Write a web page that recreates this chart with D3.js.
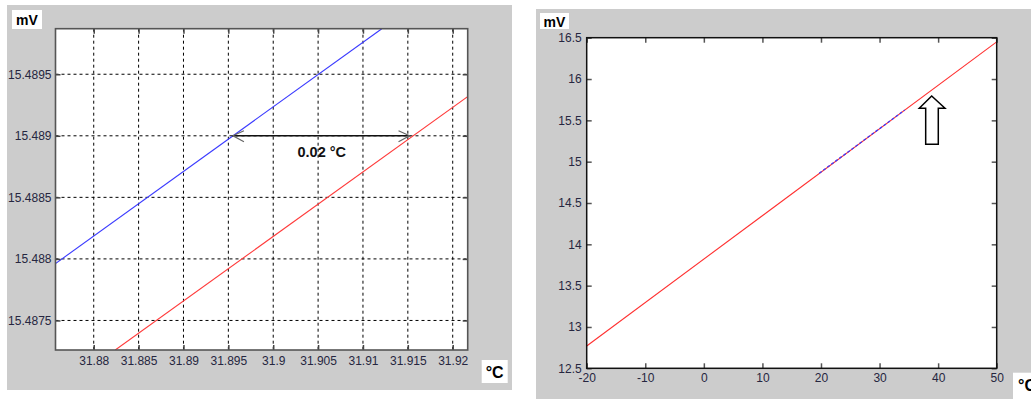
<!DOCTYPE html>
<html><head><meta charset="utf-8">
<script src="https://cdn.jsdelivr.net/npm/d3@7"></script>
<style>body{margin:0;background:#fff}svg{display:block}text{font-family:Arial,"Liberation Sans",sans-serif}</style>
</head><body><svg id="c" width="1031" height="399"></svg>
<script>
// ---- data ----
const leftXTicks = [31.88, 31.885, 31.89, 31.895, 31.9, 31.905, 31.91, 31.915, 31.92];
const leftYTicks = [15.4875, 15.488, 15.4885, 15.489, 15.4895];
const leftXDomain = [31.87574, 31.92167];
const leftYDomain = [15.48726, 15.48987];
const leftBlue = [[31.8757, 15.48796], [31.9121, 15.48987]];
const leftRed = [[31.8824, 15.48726], [31.9217, 15.48932]];
const gapArrow = [31.8954, 31.9153, 15.489];
const gapLabel = "0.02 °C";

const rightXTicks = [-20, -10, 0, 10, 20, 30, 40, 50];
const rightYTicks = [12.5, 13, 13.5, 14, 14.5, 15, 15.5, 16, 16.5];
const rightXDomain = [-20, 50];
const rightYDomain = [12.5, 16.5];
const rightRed = [[-20, 12.77], [50, 16.45]];
const rightBlue = [[19.7, 14.86], [34.3, 15.625]];
const upArrowTip = [38.9, 15.795];

const yUnit = "mV", xUnit = "°C";

const svg = d3.select("#c");
const labelColor = "#262640";

// ================= LEFT PANEL =================
svg.append("rect").attr("x",7).attr("y",5).attr("width",505).attr("height",385).attr("fill","#cccccc");
const L = {l:55.5, t:28.7, r:467.7, b:350};
const xL = d3.scaleLinear().domain(leftXDomain).range([L.l, L.r]);
const yL = d3.scaleLinear().domain(leftYDomain).range([L.b, L.t]);
svg.append("rect").attr("x",L.l).attr("y",L.t).attr("width",L.r-L.l).attr("height",L.b-L.t).attr("fill","#fff");
const defs = svg.append("defs");
defs.append("clipPath").attr("id","clipL").append("rect").attr("x",L.l).attr("y",L.t).attr("width",L.r-L.l).attr("height",L.b-L.t);
defs.append("clipPath").attr("id","clipR").append("rect").attr("x",586.7).attr("y",37.7).attr("width",410).attr("height",330.6);

// grid
const gGrid = svg.append("g");
gGrid.selectAll(".vx").data(leftXTicks).join("line")
  .attr("x1",d=>xL(d)).attr("x2",d=>xL(d)).attr("y1",L.t).attr("y2",L.b)
  .attr("stroke","#000").attr("stroke-width",1).attr("stroke-dasharray","3,3");
gGrid.selectAll(".hy").data(leftYTicks).join("line")
  .attr("y1",d=>yL(d)).attr("y2",d=>yL(d)).attr("x1",L.l).attr("x2",L.r)
  .attr("stroke","#000").attr("stroke-width",1).attr("stroke-dasharray","3,3");

const line = (xs, ys) => d3.line().x(d=>xs(d[0])).y(d=>ys(d[1]));
const gLines = svg.append("g").attr("clip-path","url(#clipL)");
gLines.append("path").attr("d", line(xL,yL)(leftBlue)).attr("fill","none").attr("stroke","#3a3aff").attr("stroke-width",1.1);
gLines.append("path").attr("d", line(xL,yL)(leftRed)).attr("fill","none").attr("stroke","#ff3a3a").attr("stroke-width",1.1);

// axes
const axL_b = d3.axisBottom(xL).tickValues(leftXTicks).tickFormat(d=>String(d)).tickSizeInner(-5).tickSizeOuter(0).tickPadding(6);
const axL_l = d3.axisLeft(yL).tickValues(leftYTicks).tickFormat(d=>String(d)).tickSizeInner(-5).tickSizeOuter(0).tickPadding(4);
const axL_t = d3.axisTop(xL).tickValues(leftXTicks).tickFormat("").tickSizeInner(-5).tickSizeOuter(0);
const axL_r = d3.axisRight(yL).tickValues(leftYTicks).tickFormat("").tickSizeInner(-5).tickSizeOuter(0);
function styleAxis(g, col, w, fs){
  g.select(".domain").remove();
  g.selectAll(".tick line").attr("stroke",col).attr("stroke-width",w);
  g.selectAll("text").attr("fill",labelColor).style("font-size",fs+"px").style("font-family","Arial, 'Liberation Sans', sans-serif");
}
styleAxis(svg.append("g").attr("transform",`translate(0,${L.b})`).call(axL_b), "#444", 1.5, 12);
styleAxis(svg.append("g").attr("transform",`translate(${L.l},0)`).call(axL_l), "#444", 1.5, 12);
styleAxis(svg.append("g").attr("transform",`translate(0,${L.t})`).call(axL_t), "#444", 1.5, 12);
styleAxis(svg.append("g").attr("transform",`translate(${L.r},0)`).call(axL_r), "#444", 1.5, 12);
svg.append("rect").attr("x",L.l).attr("y",L.t).attr("width",L.r-L.l).attr("height",L.b-L.t)
  .attr("fill","none").attr("stroke","#555").attr("stroke-width",1.6);

// gap arrow
const ax1 = xL(gapArrow[0]), ax2 = xL(gapArrow[1]), ay = yL(gapArrow[2]);
svg.append("line").attr("x1",ax1).attr("x2",ax2).attr("y1",ay).attr("y2",ay).attr("stroke","#111").attr("stroke-width",1.6);
svg.append("path").attr("d",`M${ax1+12},${ay-5}L${ax1+1},${ay}L${ax1+12},${ay+6}`).attr("fill","none").attr("stroke","#666").attr("stroke-width",1.2);
svg.append("path").attr("d",`M${ax2-12},${ay-5}L${ax2-1},${ay}L${ax2-12},${ay+6}`).attr("fill","none").attr("stroke","#666").attr("stroke-width",1.2);
svg.append("text").attr("x",(ax1+ax2)/2+0.5).attr("y",ay+21).attr("text-anchor","middle")
  .style("font-size","14.5px").style("font-weight","bold").attr("fill","#111").text(gapLabel);

// unit labels
svg.append("rect").attr("x",12).attr("y",10).attr("width",30).attr("height",19).attr("fill","#fff");
svg.append("text").attr("x",27).attr("y",25).attr("text-anchor","middle").style("font-size","14px").style("font-weight","bold").attr("fill","#000").text(yUnit);
svg.append("rect").attr("x",481.7).attr("y",360).attr("width",26).attr("height",23).attr("fill","#fff");
svg.append("text").attr("x",494.7).attr("y",378).attr("text-anchor","middle").style("font-size","16px").style("font-weight","bold").attr("fill","#000").text(xUnit);

// ================= RIGHT PANEL =================
svg.append("rect").attr("x",536).attr("y",9).attr("width",495).attr("height",390).attr("fill","#cccccc");
const R = {l:586.7, t:37.7, r:996.7, b:368.3};
const xR = d3.scaleLinear().domain(rightXDomain).range([R.l, R.r]);
const yR = d3.scaleLinear().domain(rightYDomain).range([R.b, R.t]);
svg.append("rect").attr("x",R.l).attr("y",R.t).attr("width",R.r-R.l).attr("height",R.b-R.t).attr("fill","#fff");

const gR = svg.append("g").attr("clip-path","url(#clipR)");
gR.append("path").attr("d", line(xR,yR)(rightRed)).attr("fill","none").attr("stroke","#ff3030").attr("stroke-width",1.1);
gR.append("path").attr("d", line(xR,yR)(rightBlue)).attr("fill","none").attr("stroke","#3a3aff").attr("stroke-width",1.3).attr("stroke-dasharray","3,2");

const axR_b = d3.axisBottom(xR).tickValues(rightXTicks).tickFormat(d=>String(d)).tickSizeInner(-5).tickSizeOuter(0).tickPadding(5);
const axR_l = d3.axisLeft(yR).tickValues(rightYTicks).tickFormat(d=>String(d)).tickSizeInner(-5).tickSizeOuter(0).tickPadding(5);
const axR_t = d3.axisTop(xR).tickValues(rightXTicks).tickFormat("").tickSizeInner(-5).tickSizeOuter(0);
const axR_r = d3.axisRight(yR).tickValues(rightYTicks).tickFormat("").tickSizeInner(-5).tickSizeOuter(0);
styleAxis(svg.append("g").attr("transform",`translate(0,${R.b})`).call(axR_b), "#555", 1.5, 12);
styleAxis(svg.append("g").attr("transform",`translate(${R.l},0)`).call(axR_l), "#555", 1.5, 12);
styleAxis(svg.append("g").attr("transform",`translate(0,${R.t})`).call(axR_t), "#555", 1.5, 12);
styleAxis(svg.append("g").attr("transform",`translate(${R.r},0)`).call(axR_r), "#555", 1.5, 12);
svg.append("rect").attr("x",R.l).attr("y",R.t).attr("width",R.r-R.l).attr("height",R.b-R.t)
  .attr("fill","none").attr("stroke","#111").attr("stroke-width",1.5);

// up arrow annotation
const tx = xR(upArrowTip[0]), ty = yR(upArrowTip[1]);
const arrowPts = [[0,0],[13.3,12.3],[6.6,12.3],[6.6,48.3],[-6,48.3],[-6,12.3],[-12.4,12.3]];
svg.append("path").attr("d","M"+arrowPts.map(p=>`${tx+p[0]},${ty+p[1]}`).join("L")+"Z")
  .attr("fill","#fff").attr("stroke","#000").attr("stroke-width",1.5).attr("stroke-linejoin","miter");

// unit labels
svg.append("rect").attr("x",540).attr("y",13).attr("width",29).attr("height",16).attr("fill","#fff");
svg.append("text").attr("x",554.5).attr("y",27).attr("text-anchor","middle").style("font-size","14px").style("font-weight","bold").attr("fill","#000").text(yUnit);
svg.append("rect").attr("x",1013).attr("y",372.7).attr("width",20).attr("height",27).attr("fill","#fff");
svg.append("text").attr("x",1018).attr("y",391).attr("text-anchor","start").style("font-size","16px").style("font-weight","bold").attr("fill","#000").text(xUnit);
</script></body></html>
